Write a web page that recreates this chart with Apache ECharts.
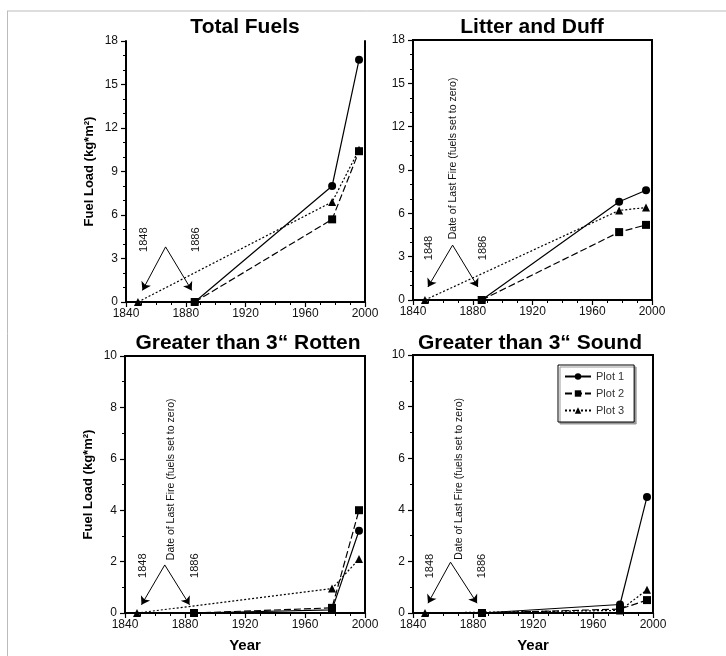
<!DOCTYPE html>
<html>
<head>
<meta charset="utf-8">
<script src="https://cdn.jsdelivr.net/npm/echarts@6/dist/echarts.min.js"></script>
<style>html,body{margin:0;padding:0;background:#fff}#c{width:726px;height:656px}</style>
</head>
<body>
<div id="c"></div>
<script>
// ---- data ----
const panelTitles = ['Total Fuels', 'Litter and Duff', 'Greater than 3\u201C Rotten', 'Greater than 3\u201C Sound'];
const seriesNames = ['Plot 1', 'Plot 2', 'Plot 3'];
const yearsPlot12 = [1886, 1978, 1996];
const yearsPlot3 = [1848, 1978, 1996];
const total_plot1 = [0, 8.0, 16.7];
const total_plot2 = [0, 5.7, 10.4];
const total_plot3 = [0, 6.9, 10.5];
const litter_plot1 = [0, 6.8, 7.6];
const litter_plot2 = [0, 4.7, 5.2];
const litter_plot3 = [0, 6.2, 6.4];
const rotten_plot1 = [0, 0.12, 3.2];
const rotten_plot2 = [0, 0.2, 4.0];
const rotten_plot3 = [0, 0.95, 2.1];
const sound_plot1 = [0, 0.33, 4.5];
const sound_plot2 = [0, 0.15, 0.5];
const sound_plot3 = [0, 0.1, 0.9];
const xTicks = [1840, 1880, 1920, 1960, 2000];
const yMaxTop = 18, yStepTop = 3;
const yMaxBottom = 10, yStepBottom = 2;
const fireYearLabels = ['1848', '1886'];
const noteText = 'Date of Last Fire (fuels set to zero)';
// annotation anchor points in data space per panel
const annot = [
  {lab: [[1852, 4.3], [1887, 4.3]], apex: [1866.5, 3.8], ends: [[1851, 0.8], [1884, 0.8]], note: null},
  {lab: [[1850.5, 3.6], [1887, 3.6]], apex: [1866.5, 3.8], ends: [[1850, 0.9], [1883.5, 0.9]], note: [1867, 9.8]},
  {lab: [[1852, 1.84], [1886.7, 1.84]], apex: [1866.5, 1.87], ends: [[1851, 0.32], [1883, 0.32]], note: [1870.5, 5.2]},
  {lab: [[1851.3, 1.82], [1886, 1.82]], apex: [1865, 1.97], ends: [[1850, 0.38], [1882.7, 0.38]], note: [1871, 5.2]}
];

const panelData = [
  [total_plot1, total_plot2, total_plot3],
  [litter_plot1, litter_plot2, litter_plot3],
  [rotten_plot1, rotten_plot2, rotten_plot3],
  [sound_plot1, sound_plot2, sound_plot3]
];

const FONT = 'Liberation Sans, Arial, sans-serif';
const grids = [
  {left: 126, top: 41, width: 239, height: 261},
  {left: 413, top: 40, width: 239, height: 260, show: true, borderColor: '#000', borderWidth: 2},
  {left: 125, top: 356, width: 240, height: 257, show: true, borderColor: '#000', borderWidth: 2},
  {left: 413, top: 355, width: 240, height: 258, show: true, borderColor: '#000', borderWidth: 2}
];

const xAxes = grids.map((g, i) => ({
  type: 'value', gridIndex: i, min: xTicks[0], max: xTicks[xTicks.length - 1], interval: 40,
  axisLine: {show: true, onZero: false, lineStyle: {color: '#000', width: 2}},
  axisTick: {show: true, length: 5, lineStyle: {color: '#000', width: 1.2}},
  minorTick: {show: true, splitNumber: 4, length: 3, lineStyle: {color: '#000', width: 1}},
  splitLine: {show: false},
  axisLabel: {color: '#111', fontSize: 12, fontFamily: FONT, margin: 6, formatter: v => String(v)},
  name: i >= 2 ? 'Year' : '', nameLocation: 'middle', nameGap: 25,
  nameTextStyle: {fontWeight: 'bold', fontSize: 15, color: '#000', fontFamily: FONT}
}));

const yAxes = grids.map((g, i) => {
  const top = i < 2;
  return {
    type: 'value', gridIndex: i, min: 0, max: top ? yMaxTop : yMaxBottom, interval: top ? yStepTop : yStepBottom,
    axisLine: {show: true, onZero: false, lineStyle: {color: '#000', width: 2}},
    axisTick: {show: true, length: 5, lineStyle: {color: '#000', width: 1.2}},
    minorTick: {show: true, splitNumber: top ? 3 : 2, length: 3, lineStyle: {color: '#000', width: 1}},
    splitLine: {show: false},
    axisLabel: {color: '#111', fontSize: 12, fontFamily: FONT, margin: 8},
    name: (i % 2 === 0) ? 'Fuel Load (kg*m\u00B2)' : '', nameLocation: 'middle', nameGap: 30,
    nameTextStyle: {fontWeight: 'bold', fontSize: 13, color: '#000', fontFamily: FONT}
  };
});
// right border for the first panel
yAxes.push({
  type: 'value', gridIndex: 0, position: 'right', min: 0, max: yMaxTop,
  axisLine: {show: true, lineStyle: {color: '#000', width: 2}},
  axisTick: {show: false}, axisLabel: {show: false}, splitLine: {show: false}
});

const symbols = ['circle', 'rect', 'triangle'];
const symSizes = [8, 8, 8];
const lineTypes = ['solid', [7, 3], [2, 2]];

const series = [];
panelData.forEach((vals, p) => {
  vals.forEach((arr, s) => {
    const yrs = s === 2 ? yearsPlot3 : yearsPlot12;
    const ser = {
      name: seriesNames[s], type: 'line', xAxisIndex: p, yAxisIndex: p,
      data: yrs.map((y, k) => [y, arr[k]]),
      symbol: symbols[s], symbolSize: symSizes[s], showAllSymbol: true,
      itemStyle: {color: '#000'},
      lineStyle: {color: '#000', width: 1.2, type: lineTypes[s]},
      animation: false, z: 5 - s
    };
    if (s === 0) {
      const a = annot[p];
      ser.markLine = {
        silent: true, animation: false, symbol: ['none', 'arrow'], symbolSize: 8,
        label: {show: false},
        lineStyle: {color: '#000', width: 1, type: 'solid'},
        data: a.ends.map(e => [{coord: a.apex}, {coord: e}])
      };
    }
    series.push(ser);
  });
});

const chart = echarts.init(document.getElementById('c'), null, {renderer: 'canvas'});
chart.setOption({
  animation: false,
  backgroundColor: '#fff',
  grid: grids,
  xAxis: xAxes,
  yAxis: yAxes,
  legend: {
    data: seriesNames, orient: 'vertical', left: 558, top: 365,
    itemWidth: 26, itemHeight: 8, itemGap: 6,
    padding: [6, 10, 6, 6],
    backgroundColor: '#fff', borderColor: '#000', borderWidth: 1,
    shadowColor: '#999', shadowOffsetX: 2, shadowOffsetY: 2, shadowBlur: 0,
    textStyle: {fontSize: 11, color: '#333', fontFamily: FONT},
    selectedMode: false
  },
  series: series
});

// annotations and titles
const titlePos = [[245, 27], [532, 27], [248, 343], [530, 343]];
const g = [];
g.push({type: 'line', shape: {x1: 7, y1: 11, x2: 726, y2: 11}, style: {stroke: '#bbb', lineWidth: 1}, silent: true});
g.push({type: 'line', shape: {x1: 7.5, y1: 11, x2: 7.5, y2: 656}, style: {stroke: '#bbb', lineWidth: 1}, silent: true});
panelTitles.forEach((t, i) => {
  g.push({type: 'text', x: titlePos[i][0], y: titlePos[i][1], silent: true,
    style: {text: t, fill: '#000', font: 'bold 21px ' + FONT, textAlign: 'center', textVerticalAlign: 'middle'}});
});
annot.forEach((a, p) => {
  a.lab.forEach((pt, k) => {
    const px = chart.convertToPixel({gridIndex: p}, pt);
    g.push({type: 'text', x: px[0], y: px[1], rotation: Math.PI / 2, silent: true,
      style: {text: fireYearLabels[k], fill: '#111', font: '11px ' + FONT, textAlign: 'center', textVerticalAlign: 'middle'}});
  });
  if (a.note) {
    const px = chart.convertToPixel({gridIndex: p}, a.note);
    g.push({type: 'text', x: px[0], y: px[1], rotation: Math.PI / 2, silent: true,
      style: {text: noteText, fill: '#111', font: '10.5px ' + FONT, textAlign: 'center', textVerticalAlign: 'middle'}});
  }
});
chart.setOption({graphic: g});
</script>
</body>
</html>
